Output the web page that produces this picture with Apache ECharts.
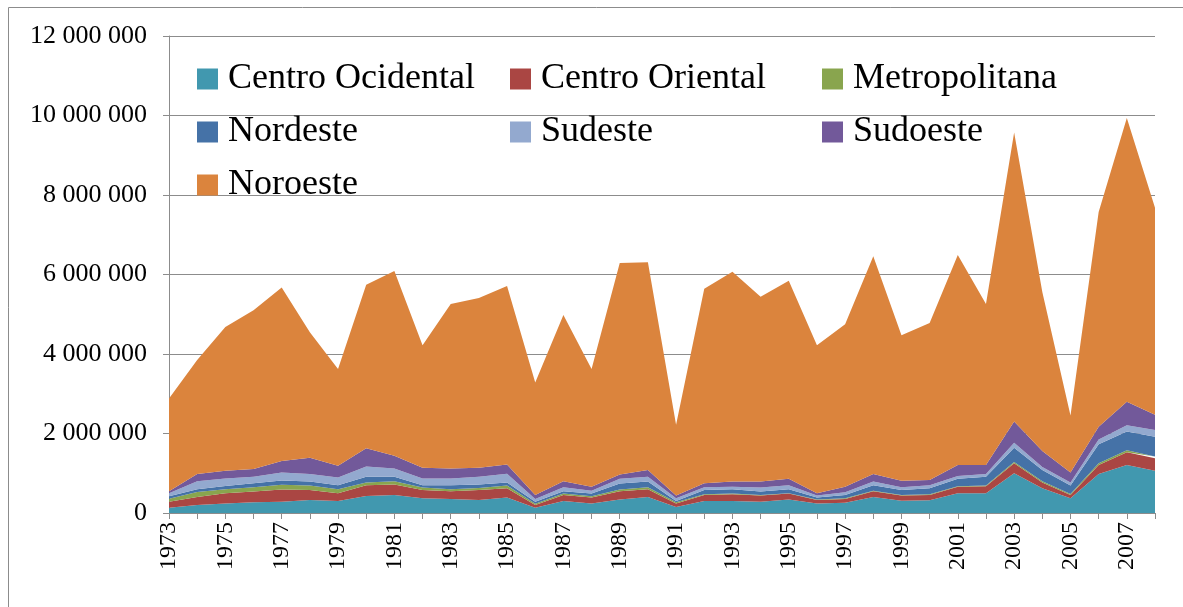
<!DOCTYPE html>
<html>
<head>
<meta charset="utf-8">
<script src="https://cdn.jsdelivr.net/npm/echarts@6/dist/echarts.min.js"></script>
<style>
html,body{margin:0;padding:0;background:#fff;}
#chart{width:1183px;height:607px;}
</style>
</head>
<body>
<div id="chart"></div>
<script>
const years = ['1973','1974','1975','1976','1977','1978','1979','1980','1981','1982','1983','1984','1985','1986','1987','1988','1989','1990','1991','1992','1993','1994','1995','1996','1997','1998','1999','2000','2001','2002','2003','2004','2005','2006','2007','2008'];
// values in thousands
const centroOcidental = [130,200,240,270,280,330,300,430,450,370,350,330,390,130,300,240,340,400,150,300,300,280,340,240,260,400,310,320,500,500,1000,620,370,980,1210,1060];
const centroOriental  = [150,200,260,270,310,250,200,270,270,210,200,250,230,70,150,150,210,200,90,150,170,160,150,90,90,150,130,130,160,170,250,150,80,230,320,320];
const metropolitana   = [80,130,100,110,120,110,100,70,80,60,50,50,70,30,40,30,40,50,30,20,20,10,10,10,20,10,10,20,10,20,30,30,30,40,50,40];
const nordeste        = [60,70,80,100,110,100,100,140,110,60,100,90,80,50,60,70,150,140,30,110,110,90,100,50,80,140,130,150,190,220,360,280,210,480,470,500];
const sudeste         = [80,200,190,160,200,190,190,260,210,170,170,190,220,70,100,70,120,120,70,70,60,100,100,50,70,90,70,80,70,70,130,80,80,120,160,170];
const sudoeste        = [50,180,190,200,290,410,300,460,320,270,250,230,230,100,150,100,110,170,70,100,130,150,160,60,140,190,160,130,280,230,530,400,250,320,590,380];
const noroeste        = [2330,2870,3620,3990,4360,3160,2430,4110,4650,3080,4140,4270,4490,2830,4180,2960,5320,5230,1780,4890,5280,4650,4980,3720,4090,5480,3660,3950,5280,4050,7270,4000,1430,5400,7140,5210];
const yTicks = [0,2000000,4000000,6000000,8000000,10000000,12000000];

const names = ['Centro Ocidental','Centro Oriental','Metropolitana','Nordeste','Sudeste','Sudoeste','Noroeste'];
const colors = ['#4198AF','#AA4643','#89A54E','#4572A7','#93A9CF','#72599A','#DB843D'];
const seriesData = [centroOcidental,centroOriental,metropolitana,nordeste,sudeste,sudoeste,noroeste];

const FONT = "'Liberation Serif','Times New Roman',serif";
const chart = echarts.init(document.getElementById('chart'), null, {renderer:'canvas'});

function fmt(v){ return String(v).replace(/\B(?=(\d{3})+(?!\d))/g,' '); }

const legendBase = {
  orient:'vertical', top:61, padding:0, itemGap:17,
  itemWidth:21, itemHeight:21, icon:'rect',
  textStyle:{fontFamily:FONT, fontSize:36, color:'#000', lineHeight:36, padding:[0,0,0,5]}
};

chart.setOption({
  animation:false,
  color:colors,
  graphic:[{type:'rect', shape:{x:8.5,y:7.5,width:1300,height:800}, style:{fill:'none', stroke:'#8c8c8c', lineWidth:1}, silent:true}],
  legend:[
    Object.assign({}, legendBase, {left:197, data:['Centro Ocidental','Nordeste','Noroeste']}),
    Object.assign({}, legendBase, {left:510, data:['Centro Oriental','Sudeste']}),
    Object.assign({}, legendBase, {left:822, data:['Metropolitana','Sudoeste']})
  ],
  grid:{left:169, right:28, top:36, bottom:94, containLabel:false},
  xAxis:{
    type:'category', data:years, boundaryGap:false,
    axisLine:{lineStyle:{color:'#8c8c8c', width:1}},
    axisTick:{show:true, interval:0, length:6, lineStyle:{color:'#8c8c8c'}},
    axisLabel:{interval:1, rotate:90, margin:9, fontFamily:FONT, fontSize:24, color:'#000'},
    splitLine:{show:false}
  },
  yAxis:{
    type:'value', min:yTicks[0], max:yTicks[yTicks.length-1], interval:yTicks[1]-yTicks[0],
    axisLine:{show:true, lineStyle:{color:'#8c8c8c', width:1}},
    axisTick:{show:true, length:6, lineStyle:{color:'#8c8c8c'}},
    axisLabel:{margin:22, fontFamily:FONT, fontSize:26, color:'#000', formatter:fmt},
    splitLine:{show:true, lineStyle:{color:'#8c8c8c', width:1}}
  },
  series: names.map((n,i)=>({
    name:n, type:'line', stack:'total',
    data: seriesData[i].map(v=>v*1000),
    showSymbol:false, symbol:'none',
    lineStyle:{width:0},
    areaStyle:{color:colors[i], opacity:1},
    itemStyle:{color:colors[i]}
  }))
});
</script>
</body>
</html>
